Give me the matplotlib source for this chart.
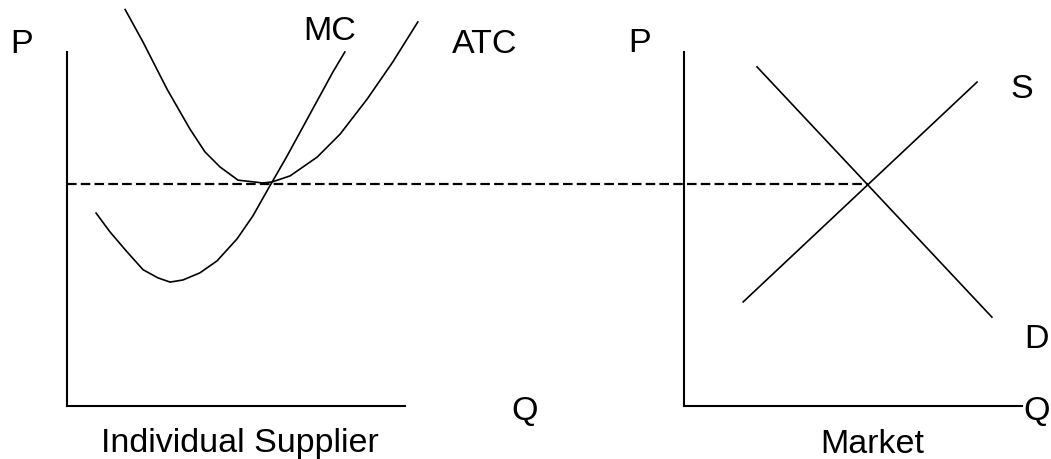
import numpy as np
import matplotlib
matplotlib.use("Agg")
import matplotlib.pyplot as plt

plt.rcParams['font.family'] = ['Liberation Sans', 'DejaVu Sans']

# individual supplier: cost curves (Q, P)
atc_q = [1.72, 2.25, 2.96, 3.64, 4.08, 4.53, 5.06, 5.80, 6.07, 6.60, 7.40, 8.08, 8.88, 9.64, 10.38]
atc_p = [11.20, 10.28, 8.95, 7.82, 7.18, 6.75, 6.38, 6.30, 6.33, 6.50, 7.03, 7.68, 8.67, 9.72, 10.85]
mc_q = [0.86, 1.27, 1.78, 2.25, 2.69, 3.05, 3.43, 3.93, 4.44, 5.03, 5.50, 5.95, 6.51, 7.19, 7.87, 8.22]
mc_p = [5.45, 4.92, 4.35, 3.85, 3.62, 3.50, 3.56, 3.76, 4.10, 4.72, 5.37, 6.13, 7.06, 8.25, 9.44, 10.0]

# market: straight supply and demand
demand_q = [2.16, 9.11]
demand_p = [9.58, 2.51]
supply_q = [1.75, 8.67]
supply_p = [2.94, 9.15]

price = 6.27          # market price, carried across both panels
price_end_q = 23.70   # where the dashed line stops (market intersection, left-panel units)

fig = plt.figure(figsize=(10.51, 4.6), dpi=100)
ax1 = fig.add_axes([67 / 1051, 53 / 460, 338 / 1051, 354 / 460])
ax2 = fig.add_axes([684 / 1051, 53 / 460, 338 / 1051, 354 / 460])

for ax in (ax1, ax2):
    ax.set_xlim(0, 10)
    ax.set_ylim(0, 10)
    ax.set_xticks([])
    ax.set_yticks([])
    ax.spines['top'].set_visible(False)
    ax.spines['right'].set_visible(False)
    ax.spines['left'].set_linewidth(1.5)
    ax.spines['bottom'].set_linewidth(1.5)
    ax.patch.set_alpha(0)

kw = dict(color='black', lw=1.2, clip_on=False)
ax1.plot(atc_q, atc_p, **kw)
ax1.plot(mc_q, mc_p, **kw)
ax1.plot([0, price_end_q], [price, price], color='black', lw=1.6,
         linestyle=(0, (4.3, 1.9)), clip_on=False)

ax2.plot(demand_q, demand_p, **kw)
ax2.plot(supply_q, supply_p, **kw)

fs = 24.5
t = dict(fontsize=fs, ha='center', va='baseline', clip_on=False)
ax1.text(-1.33, 10.0, 'P', **t)
ax1.text(7.78, 10.37, 'MC', **t)
ax1.text(12.37, 10.0, 'ATC', **t)
ax1.text(13.55, -0.37, 'Q', **t)
ax1.text(5.12, -1.27, 'Individual Supplier', **t)

ax2.text(-1.30, 10.03, 'P', **t)
ax2.text(10.0, 8.73, 'S', **t)
ax2.text(10.44, 1.67, 'D', **t)
ax2.text(10.44, -0.37, 'Q', **t)
ax2.text(5.56, -1.30, 'Market', **t)

fig.savefig('out.png', dpi=100)
